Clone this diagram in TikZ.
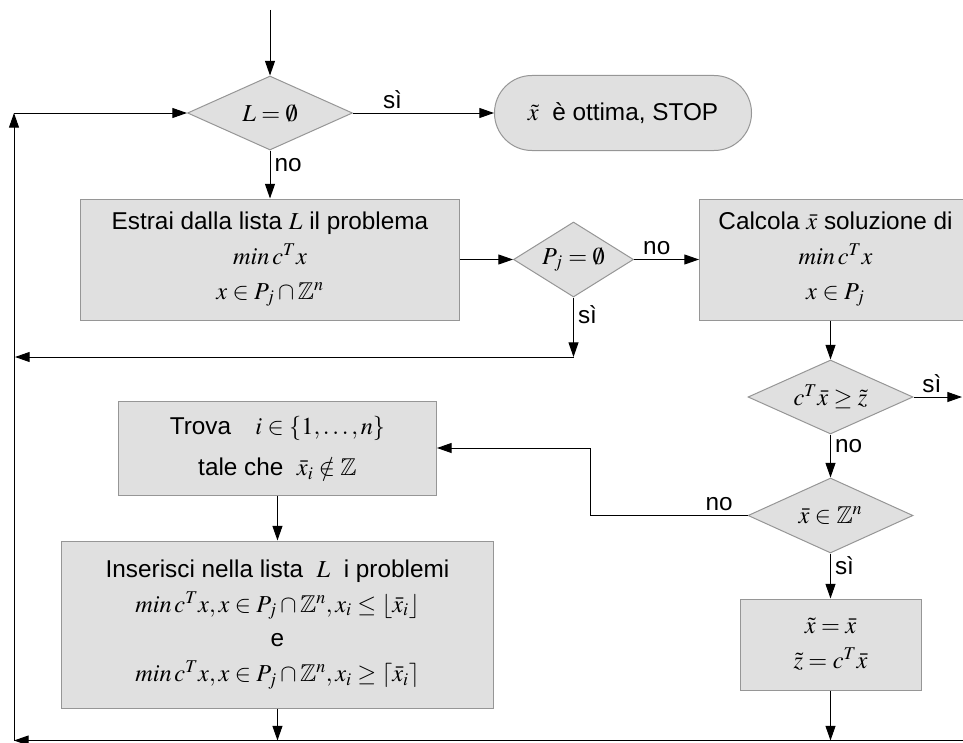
\documentclass[tikz,border=0pt]{standalone}
\usepackage{mathptmx}
\usepackage{amssymb}
\usepackage[no-math]{fontspec}
\setmainfont{Liberation Sans}
\usetikzlibrary{shapes.geometric, arrows.meta, positioning}
\definecolor{boxfill}{RGB}{224,224,224}
\definecolor{boxline}{RGB}{150,150,150}
\newcommand{\flowfont}{\fontsize{18.25pt}{26pt}\selectfont}
\tikzset{
  block/.style = {rectangle, draw=boxline, fill=boxfill, line width=0.75pt, align=center, inner sep=2pt, font=\flowfont},
  decision/.style = {diamond, aspect=2, draw=boxline, fill=boxfill, line width=0.75pt, align=center, inner sep=0pt, font=\flowfont},
  terminal/.style = {rectangle, rounded corners=28pt, draw=boxline, fill=boxfill, line width=0.75pt, align=center, font=\flowfont},
  line/.style = {-{Triangle[length=11pt, width=7.5pt]}, line width=0.75pt},
  answer/.style = {font=\flowfont, inner sep=3pt}
}
\begin{document}
\begin{tikzpicture}[x=0.75pt, y=-0.75pt]
\useasboundingbox (0,0) rectangle (963,742);

% Top row
\node[decision, minimum width=123.75pt, minimum height=55.5pt] (dEmpty) at (270,113) {$L=\emptyset$};
\node[terminal, right=105.75pt of dEmpty, minimum width=192.75pt, minimum height=56.25pt] (stop) {$\tilde{x}$\; è ottima, STOP};

% Second row
\node[block, below=36pt of dEmpty, minimum width=284.25pt, minimum height=90.75pt] (extract) {Estrai dalla lista $L$ il problema\\ $min\,c^T x$\\ $x\in P_j\cap\mathbb{Z}^n$};
\node[decision, right=39.75pt of extract, minimum width=90pt, minimum height=56.25pt] (dEmptyP) {$P_j=\emptyset$};
\node[block, right=48.75pt of dEmptyP, minimum width=204pt, minimum height=90.75pt] (relax) {Calcola $\bar{x}$ soluzione di\\ $min\,c^T x$\\ $x\in P_j$};

% Right column
\node[decision, below=29.25pt of relax, xshift=-3.75pt, minimum width=123.75pt, minimum height=55.5pt] (dBound) {$c^T\bar{x}\geq\tilde{z}$};
\node[decision, below=32.25pt of dBound, minimum width=123.75pt, minimum height=56.25pt] (dInt) {$\bar{x}\in\mathbb{Z}^n$};
\node[block, below=33.75pt of dInt, minimum width=135.75pt, minimum height=68.25pt] (update) {$\tilde{x}=\bar{x}$\\ $\tilde{z}=c^T\bar{x}$};

% Branching column
\node[block, below=60pt of extract, xshift=5.6pt, minimum width=238.5pt, minimum height=70.5pt] (pick) {Trova\quad $i\in\{1,\dots,n\}$\\[5pt] tale che\; $\bar{x}_i\notin\mathbb{Z}$};
\node[block, below=33.75pt of pick, minimum width=324pt, minimum height=125.25pt] (branch) {Inserisci nella lista\; $L$\; i problemi\\ $min\,c^T x, x\in P_j\cap\mathbb{Z}^n, x_i\leq\lfloor\bar{x}_i\rfloor$\\ e\\ $min\,c^T x, x\in P_j\cap\mathbb{Z}^n, x_i\geq\lceil\bar{x}_i\rceil$};

% Loop corners
\coordinate (entry) at (270,10);
\coordinate (loopTop) at (14,113);
\coordinate (loopBot) at (14,740.5);
\coordinate (bottomEnd) at (963,740.5);
\coordinate (pruneEnd) at (15,357);
\coordinate (pruneTurn) at (dEmptyP.south |- pruneEnd);
\coordinate (rim) at (962,0);
\coordinate (jog) at (590,0);

% Arrows
\draw[line] (entry) -- (dEmpty.north);
\draw[line] (dEmpty.east) -- (stop.west) node[answer, above, pos=.28] {sì};
\draw[line] (dEmpty.south) -- (extract.north) node[answer, right, pos=.3] {no};
\draw[line] (extract.east) -- (dEmptyP.west);
\draw[line] (dEmptyP.east) -- (relax.west) node[answer, above, pos=.35] {no};
\draw[line] (dEmptyP.south) -- (pruneTurn) node[answer, right, pos=.28] {sì};
\draw[line] (pruneTurn) -- (pruneEnd);

\draw[line] (dBound.north |- relax.south) -- (dBound.north);
\draw[line] (dBound.east) -- (dBound.east -| rim) node[answer, above, pos=.38] {sì};
\draw[line] (dBound.south) -- (dInt.north) node[answer, right, pos=.28] {no};
\draw[line] (dInt.south) -- (update.north) node[answer, right, pos=.27] {sì};
\draw[line] (dInt.west) -| (jog |- pick.east) node[answer, above, pos=.09] {no} -- (pick.east);

\draw[line] (pick.south) -- (branch.north);
\draw[line] (branch.south) -- (branch.south |- loopBot);
\draw[line] (update.south) -- (update.south |- loopBot);

\draw[line] (bottomEnd) -- (loopBot);
\draw[line] (loopBot) -- (loopTop);
\draw[line] (loopTop) -- (dEmpty.west);

\end{tikzpicture}
\end{document}
